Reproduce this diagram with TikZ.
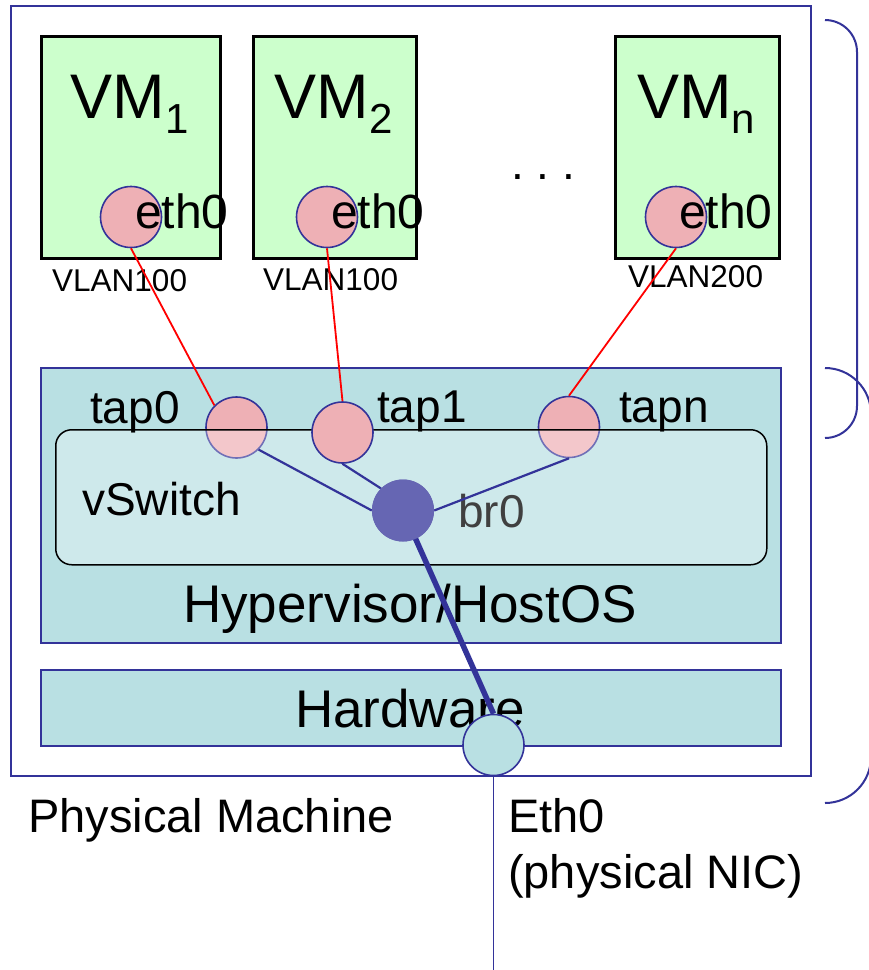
\documentclass[tikz,border=0pt]{standalone}
\usepackage{fontspec}
\setmainfont{Liberation Sans}
\definecolor{pmblue}{HTML}{333399}
\definecolor{vmgreen}{HTML}{CCFFCC}
\definecolor{pinkc}{HTML}{EEB0B5}
\definecolor{tealc}{HTML}{B9E0E3}
\definecolor{brfill}{HTML}{6666B3}
\definecolor{brtext}{HTML}{404040}
\begin{document}
\begin{tikzpicture}[x=1pt,y=-1pt,
  vmbox/.style={draw=black, line width=2.8pt, fill=vmgreen, inner sep=0, anchor=north west},
  port/.style={circle, draw=pmblue, line width=1.6pt, fill=pinkc, minimum size=61pt, inner sep=0},
  layer/.style={draw=pmblue, line width=1.6pt, fill=tealc, inner sep=0, anchor=north west},
  lbl/.style={font=\fontsize{46}{46}\selectfont, inner sep=0, anchor=base west},
  ethlbl/.style={font=\fontsize{48}{48}\selectfont, inner sep=0, anchor=base west},
  biglbl/.style={font=\fontsize{53}{53}\selectfont, inner sep=0, anchor=base},
  vmlbl/.style={font=\fontsize{63}{63}\selectfont, inner sep=0, anchor=base},
  vlan/.style={font=\fontsize{31.5}{31.5}\selectfont, inner sep=0, anchor=base west},
  vlink/.style={red, line width=1.8pt},
  blink/.style={pmblue, line width=2.2pt},
  brace/.style={pmblue, line width=2pt}]
\useasboundingbox (0,0) rectangle (869,970);
\fill[white] (0,0) rectangle (869,970);

% physical machine
\node[draw=pmblue, line width=1.6pt, inner sep=0, minimum width=800pt, minimum height=770pt, anchor=north west] (pm) at (10,5) {};

% VMs
\node[vmbox, minimum width=179pt, minimum height=222pt] (vm1) at (40,35) {};
\node[vmbox, minimum width=163pt, minimum height=222pt] (vm2) at (252,35) {};
\node[vmbox, minimum width=164pt, minimum height=222pt] (vmn) at (614,35) {};

% layers
\node[layer, minimum width=740pt, minimum height=275pt] (hyp) at (40,367) {};
\node[layer, minimum width=740pt, minimum height=76pt] (hw) at (40,669) {};

% VM interfaces
\node[port] (e1) at (131,217) {};
\node[port] (e2) at (327,217) {};
\node[port] (en) at (676,217) {};

% taps under the vSwitch
\node[port] (tap0) at (236.5,427.5) {};
\node[port] (tapn) at (569,427) {};
\node[draw=black, line width=1.5pt, fill=white, fill opacity=0.3, rounded corners=16pt, inner sep=0,
      minimum width=711pt, minimum height=135pt, anchor=north west] (vsw) at (55,429) {};
\node[port] (tap1) at (342.5,432.5) {};

% labels
\node[vmlbl] (vm1l) at (129.5,118) {VM\raisebox{-15pt}{\fontsize{42}{42}\selectfont 1}};
\node[vmlbl] (vm2l) at (333.5,118) {VM\raisebox{-15pt}{\fontsize{42}{42}\selectfont 2}};
\node[vmlbl] (vmnl) at (696,118) {VM\raisebox{-15pt}{\fontsize{42}{42}\selectfont n}};
\node[ethlbl] (e1l) at (135,228) {eth0};
\node[ethlbl] (e2l) at (331,228) {eth0};
\node[ethlbl] (enl) at (679,228) {eth0};
\node[vlan] (v1) at (52,291) {VLAN100};
\node[vlan] (v2) at (263,290) {VLAN100};
\node[vlan] (vn) at (628,287) {VLAN200};
\node[lbl] (dots) at (511,179) {.\ .\ .};
\node[lbl] (t0l) at (90,423) {tap0};
\node[lbl] (t1l) at (377,422) {tap1};
\node[lbl] (tnl) at (619,422) {tapn};
\node[lbl] (vswl) at (82,515) {vSwitch};
\node[lbl, text=brtext] (brl) at (458,527) {br0};
\node[biglbl] (hypl) at (410,622) {Hypervisor/HostOS};
\node[biglbl] (hwl) at (410,727) {Hardware};
\node[font=\fontsize{47}{47}\selectfont, inner sep=0, anchor=base west] (pml) at (28,832) {Physical Machine};
\node[font=\fontsize{47}{47}\selectfont, inner sep=0, anchor=base west] (nicl1) at (508,832) {Eth0};
\node[font=\fontsize{47}{47}\selectfont, inner sep=0, anchor=base west] (nicl2) at (508,888) {(physical NIC)};

% VLAN links
\draw[vlink] (e1.south) -- (tap0.135);
\draw[vlink] (e2.south) -- (tap1.north);
\draw[vlink] (en.south) -- (tapn.north);

% bridge
\coordinate (brc) at (403,510.5);
\node[circle, fill=brfill, minimum size=62pt, inner sep=0] (br0) at (brc) {};
\draw[blink] (tap0.-45) -- (br0.west);
\draw[blink] (tap1.south) -- (br0.135);
\draw[blink] (tapn.south) -- (br0.east);

% physical NIC
\node[circle, draw=pmblue, line width=1.6pt, fill=tealc, minimum size=61pt, inner sep=0] (nic) at (493.5,745) {};
\draw[pmblue, line width=5.5pt] (br0.center) -- (nic.north);
\node[circle, fill=brfill, minimum size=62pt, inner sep=0] (br0top) at (brc) {};
\coordinate (bot) at (493.5,970);
\draw[pmblue, line width=1.6pt] (nic.south) -- (bot);

% braces
\begin{scope}
\clip (0,0) rectangle (869,970);
\draw[brace] (825,20) .. controls (842.7,20) and (857,34.3) .. (857,52) -- (857,406)
  .. controls (857,423.7) and (842.7,438) .. (825,438);
\draw[brace] (825,368) .. controls (850.4,368) and (871,388.6) .. (871,414) -- (871,757)
  .. controls (871,782.4) and (850.4,803) .. (825,803);
\end{scope}
\end{tikzpicture}
\end{document}
